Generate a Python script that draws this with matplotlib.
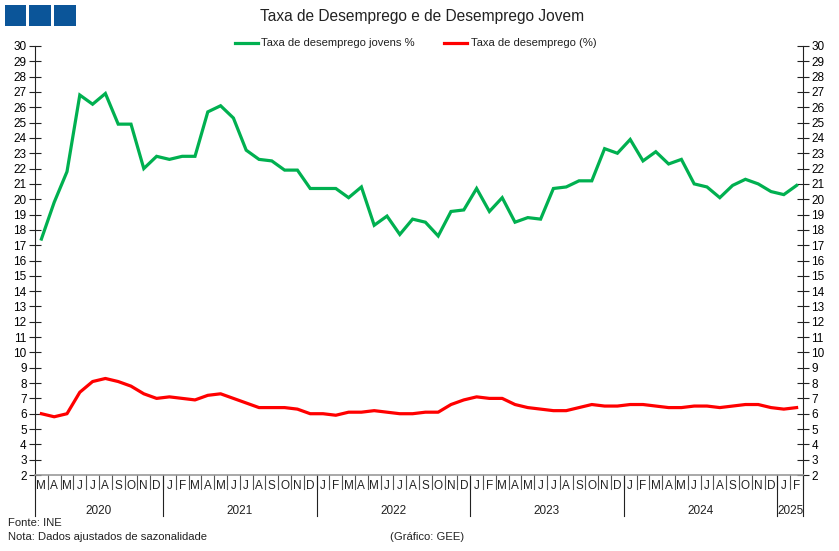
import matplotlib
matplotlib.use("Agg")
import matplotlib.pyplot as plt
from matplotlib.patches import Rectangle
from matplotlib.lines import Line2D

plt.rcParams['font.family'] = ['Liberation Sans', 'DejaVu Sans']

# Monthly data: Mar 2020 .. Feb 2025
start_year, start_month = 2020, 3
youth = [17.4, 19.8, 21.8, 26.8, 26.2, 26.9, 24.9, 24.9, 22.0, 22.8,
         22.6, 22.8, 22.8, 25.7, 26.1, 25.3, 23.2, 22.6, 22.5, 21.9,
         21.9, 20.7, 20.7, 20.7, 20.1, 20.8, 18.3, 18.9, 17.7, 18.7,
         18.5, 17.6, 19.2, 19.3, 20.7, 19.2, 20.1, 18.5, 18.8, 18.7,
         20.7, 20.8, 21.2, 21.2, 23.3, 23.0, 23.9, 22.5, 23.1, 22.3,
         22.6, 21.0, 20.8, 20.1, 20.9, 21.3, 21.0, 20.5, 20.3, 20.9]
total = [6.0, 5.8, 6.0, 7.4, 8.1, 8.3, 8.1, 7.8, 7.3, 7.0,
         7.1, 7.0, 6.9, 7.2, 7.3, 7.0, 6.7, 6.4, 6.4, 6.4,
         6.3, 6.0, 6.0, 5.9, 6.1, 6.1, 6.2, 6.1, 6.0, 6.0,
         6.1, 6.1, 6.6, 6.9, 7.1, 7.0, 7.0, 6.6, 6.4, 6.3,
         6.2, 6.2, 6.4, 6.6, 6.5, 6.5, 6.6, 6.6, 6.5, 6.4,
         6.4, 6.5, 6.5, 6.4, 6.5, 6.6, 6.6, 6.4, 6.3, 6.4]
month_letters = ['J', 'F', 'M', 'A', 'M', 'J', 'J', 'A', 'S', 'O', 'N', 'D']
yticks = list(range(2, 31))

title = 'Taxa de Desemprego e de Desemprego Jovem'
label_youth = 'Taxa de desemprego jovens %'
label_total = 'Taxa de desemprego (%)'

GREEN = '#00B050'
RED = '#FF0000'
W, H = 839, 551

fig = plt.figure(figsize=(W / 100, H / 100), dpi=100)
ax_l, ax_r, ax_t, ax_b = 35, 803, 46, 475
ax = fig.add_axes([ax_l / W, 1 - ax_b / H, (ax_r - ax_l) / W, (ax_b - ax_t) / H])

n = len(youth)
x = list(range(n))
ax.plot(x, youth, color=GREEN, lw=2.3, solid_joinstyle='miter')
ax.plot(x, total, color=RED, lw=2.3, solid_joinstyle='round')

ax.set_xlim(-0.5, n - 0.5)
ax.set_ylim(2, 30)
ax.set_yticks(yticks)
ax.set_yticklabels([str(v) for v in yticks])
ax.tick_params(axis='y', direction='inout', length=8, width=0.8, color='#222222',
               labelsize=8.5, left=True, right=True, labelleft=True, labelright=True, pad=2)
ax.set_xticks([])
ax.spines['top'].set_visible(False)
ax.spines['bottom'].set_color('#999999')
ax.spines['bottom'].set_linewidth(1.2)
ax.spines['left'].set_color('#222222')
ax.spines['right'].set_color('#222222')
ax.spines['left'].set_linewidth(0.8)
ax.spines['right'].set_linewidth(0.8)

trans = ax.get_xaxis_transform()
axh = ax_b - ax_t
def ay(px):
    return -px / axh

# month separators and labels
year_bounds = [-0.5]
for i in range(n):
    m = (start_month - 1 + i) % 12
    ax.text(i, ay(11), month_letters[m], transform=trans, ha='center', va='center',
            fontsize=8.5, color='#222222')
    if m == 0 and i > 0:
        year_bounds.append(i - 0.5)
year_bounds.append(n - 0.5)
for k in range(n + 1):
    xb = k - 0.5
    ax.add_line(Line2D([xb, xb], [0, ay(14)], transform=trans, color='#555555',
                       lw=0.8, clip_on=False))
for xb in year_bounds:
    ax.add_line(Line2D([xb, xb], [0, ay(41)], transform=trans, color='#222222',
                       lw=0.8, clip_on=False))
for j in range(len(year_bounds) - 1):
    xc = (year_bounds[j] + year_bounds[j + 1]) / 2
    ax.text(xc, ay(36), str(start_year + j), transform=trans, ha='center', va='center',
            fontsize=8.5, color='#222222')

# title
fig.text(422 / W, 1 - 17 / H, title, ha='center', va='center', fontsize=11.2, color='#222222')

# legend
ly = 1 - 43 / H
fig.add_artist(Line2D([235 / W, 258 / W], [ly, ly], color=GREEN, lw=2.3))
fig.text(261 / W, ly, label_youth, ha='left', va='center', fontsize=8.1, color='#222222')
fig.add_artist(Line2D([444 / W, 467 / W], [ly, ly], color=RED, lw=2.3))
fig.text(471 / W, ly, label_total, ha='left', va='center', fontsize=8.1, color='#222222')

# logo
for x0 in [4.7, 29, 54]:
    fig.add_artist(Rectangle((x0 / W, 1 - 25.7 / H), 21.5 / W, 21 / H,
                             transform=fig.transFigure, facecolor='#0B5599', edgecolor='none'))

# footer
fig.text(8 / W, 1 - 523 / H, 'Fonte: INE', ha='left', va='center', fontsize=8.1, color='#222222')
fig.text(8 / W, 1 - 537 / H, 'Nota: Dados ajustados de sazonalidade', ha='left', va='center',
         fontsize=8.1, color='#222222')
fig.text(390 / W, 1 - 537 / H, '(Gráfico: GEE)', ha='left', va='center', fontsize=8.1,
         color='#222222')

fig.savefig('out.png', dpi=100)
